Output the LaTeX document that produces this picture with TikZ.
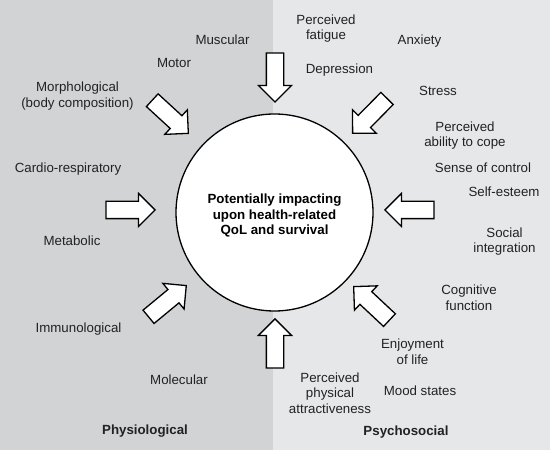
\documentclass[tikz,border=0pt]{standalone}
\usepackage{fontspec}
\setmainfont{Liberation Sans}
\usetikzlibrary{shapes.arrows,calc}
\definecolor{physgray}{HTML}{D2D3D5}
\definecolor{psygray}{HTML}{E6E7E9}
\definecolor{ink}{HTML}{222222}

\begin{document}
\begin{tikzpicture}[x=1pt,y=1pt,
  lbl/.style={text=ink, align=center, inner sep=0pt, font=\fontsize{13.3}{15.7}\selectfont},
  side/.style={lbl, font=\fontsize{13.3}{15.7}\selectfont\bfseries},
  hub/.style={circle, draw=black, fill=white, line width=1.3pt, minimum size=197, inner sep=0pt},
  hubtext/.style={align=center, inner sep=0pt, text=black, font=\fontsize{13.3}{15.7}\selectfont\bfseries},
  bigarrow/.style={single arrow, draw=black, fill=white, line width=1.3pt, minimum height=49,
    minimum width=32, single arrow head extend=8, inner xsep=0pt, inner ysep=8pt, anchor=tip}]
  % two halves
  \fill[physgray] (0,0) rectangle (273,450);
  \fill[psygray] (273,0) rectangle (550,450);
  \useasboundingbox (0,0) rectangle (550,450);

  \node[hub] (qol) at (274.5,237.5) {};
  \node[hubtext] (qoltext) at ($(qol)+(0,-3)$) {Potentially impacting\\upon health-related\\QoL and survival};

  % arrows into the circle
  \node[bigarrow, rotate=-90] (inTop) at ($(qol)+(0.5,109.5)$) {};
  \node[bigarrow, rotate=-134.6] (inTR) at ($(qol)+(77.5,78.5)$) {};
  \node[bigarrow, rotate=180] (inR) at ($(qol)+(109.5,2.5)$) {};
  \node[bigarrow, rotate=136.9] (inBR) at ($(qol)+(78.5,-73.5)$) {};
  \node[bigarrow, rotate=90] (inBot) at ($(qol)+(0.5,-105.5)$) {};
  \node[bigarrow, rotate=39.6] (inBL) at ($(qol)+(-87.5,-72.5)$) {};
  \node[bigarrow, rotate=0] (inL) at ($(qol)+(-118.5,2.5)$) {};
  \node[bigarrow, rotate=-42.6] (inTL) at ($(qol)+(-85.5,78.5)$) {};

  % physiological factors
  \node[lbl] (muscular) at (222.5,410.5) {Muscular};
  \node[lbl] (motor) at (174,387.5) {Motor};
  \node[lbl] (morph) at (77.5,354) {Morphological\\(body composition)};
  \node[lbl] (cardio) at (68,280.5) {Cardio-respiratory};
  \node[lbl] (metab) at (72,209) {Metabolic};
  \node[lbl] (immuno) at (78.5,121) {Immunological};
  \node[lbl] (molec) at (179,70) {Molecular};
  \node[side] (physio) at (145,19) {Physiological};

  % psychosocial factors
  \node[lbl] (fatigue) at (326,421.5) {Perceived\\fatigue};
  \node[lbl] (anxiety) at (419.5,409) {Anxiety};
  \node[lbl] (depress) at (339.5,379.5) {Depression};
  \node[lbl] (stress) at (438,359) {Stress};
  \node[lbl] (cope) at (465,314.5) {Perceived\\ability to cope};
  \node[lbl] (control) at (483,282) {Sense of control};
  \node[lbl] (esteem) at (504,258) {Self-esteem};
  \node[lbl] (social) at (504.5,208.5) {Social\\integration};
  \node[lbl] (cogn) at (469,152) {Cognitive\\function};
  \node[lbl] (enjoy) at (412.5,98.5) {Enjoyment\\of life};
  \node[lbl] (mood) at (420,59) {Mood states};
  \node[lbl] (attract) at (330,57) {Perceived\\physical\\attractiveness};
  \node[side] (psycho) at (406,18) {Psychosocial};
\end{tikzpicture}
\end{document}
